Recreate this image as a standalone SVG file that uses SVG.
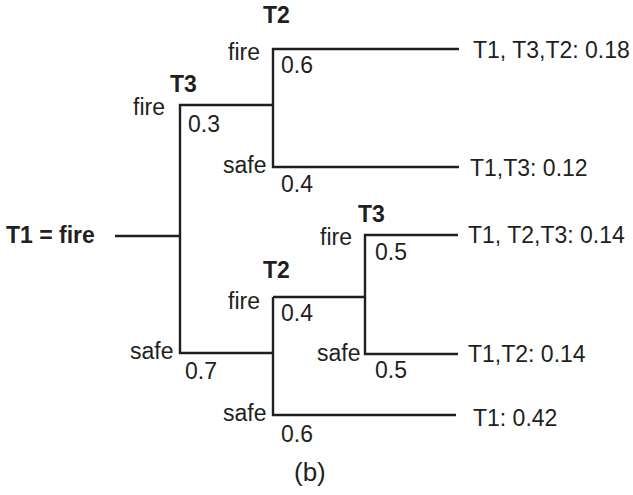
<svg xmlns="http://www.w3.org/2000/svg" width="633" height="495" viewBox="0 0 633 495">
<style>
text{font-family:"Liberation Sans",Arial,sans-serif;font-size:23px;fill:#231f20}
.b{font-weight:bold}
.ln{fill:none;stroke:#231f20;stroke-width:2.4;stroke-linecap:butt;stroke-linejoin:miter}
</style>
<rect width="633" height="495" fill="#fff"/>
<g id="connectors">
<path class="ln" d="M115,236 H180"/>
<path class="ln" d="M273,105 H180 V353 H273"/>
<path class="ln" d="M459,49 H273 V167 H459"/>
<path class="ln" d="M365,297 H273 V297"/>
<path class="ln" d="M456,415 H273 V297"/>
<path class="ln" d="M458,235 H365 V354 H458"/>
</g>
<g id="root"><text class="b" x="6" y="243">T1 = fire</text></g>
<g id="t3-top">
<text class="b" x="170" y="92">T3</text>
<text x="133" y="115">fire</text>
<text x="188" y="132">0.3</text>
<text x="130" y="359">safe</text>
<text x="185" y="379">0.7</text>
</g>
<g id="t2-top">
<text class="b" x="263" y="23">T2</text>
<text x="228" y="60">fire</text>
<text x="281" y="73">0.6</text>
<text x="223" y="173">safe</text>
<text x="281" y="192">0.4</text>
</g>
<g id="t2-bottom">
<text class="b" x="263" y="278">T2</text>
<text x="228" y="309">fire</text>
<text x="281" y="321">0.4</text>
<text x="223" y="421">safe</text>
<text x="281" y="442">0.6</text>
</g>
<g id="t3-bottom">
<text class="b" x="358" y="222">T3</text>
<text x="320" y="245">fire</text>
<text x="375" y="260">0.5</text>
<text x="317" y="361">safe</text>
<text x="375" y="378">0.5</text>
</g>
<g id="outcome-1"><text x="473" y="58">T1, T3,T2: 0.18</text></g>
<g id="outcome-2"><text x="470" y="176">T1,T3: 0.12</text></g>
<g id="outcome-3"><text x="468" y="243">T1, T2,T3: 0.14</text></g>
<g id="outcome-4"><text x="468" y="362">T1,T2: 0.14</text></g>
<g id="outcome-5"><text x="473" y="426">T1: 0.42</text></g>
<g id="caption"><text x="294" y="481" style="font-size:26px">(b)</text></g>
</svg>
